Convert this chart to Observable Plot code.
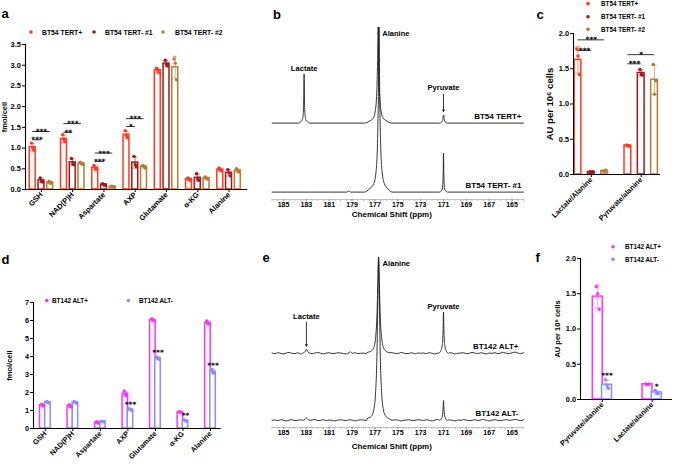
<!DOCTYPE html>
<html>
<head>
<meta charset="utf-8">
<script src="https://cdn.jsdelivr.net/npm/d3@7"></script>
<script src="https://cdn.jsdelivr.net/npm/@observablehq/plot@0.6"></script>
<style>
html,body{margin:0;padding:0;background:#fff;}
#root{position:relative;width:674px;height:464px;overflow:hidden;background:#fff;font-family:"Liberation Sans",Arial,Helvetica,sans-serif;}
.panel{position:absolute;}
#overlay{position:absolute;left:0;top:0;pointer-events:none;overflow:visible;}
</style>
</head>
<body>
<div id="root"></div>
<script>
// ================= DATA =================
// Panel a: BT54 metabolites (fmol/cell), three replicates per bar
const metabolites = ["GSH", "NAD(P)H", "Aspartate", "AXP", "Glutamate", "α-KG", "Alanine"];
const tertSeries = ["BT54 TERT+", "BT54 TERT- #1", "BT54 TERT- #2"];
const tertColors = ["#ff3a1e", "#a3181b", "#b97a31"];
const tertPlusMetab   = [[1.12,1.00,0.95],[1.32,1.20,1.15],[0.58,0.50,0.49],[1.42,1.30,1.25],[2.93,2.88,2.82],[0.28,0.25,0.22],[0.52,0.47,0.45]];
const tertMinus1Metab = [[0.28,0.20,0.18],[0.75,0.62,0.60],[0.14,0.11,0.11],[0.80,0.60,0.55],[3.12,3.02,2.98],[0.38,0.25,0.22],[0.48,0.40,0.33]];
const tertMinus2Metab = [[0.20,0.15,0.16],[0.66,0.62,0.61],[0.08,0.07,0.06],[0.58,0.55,0.52],[3.15,3.05,2.65],[0.30,0.27,0.25],[0.50,0.45,0.42]];
const yTicksA = [0, 0.5, 1.0, 1.5, 2.0, 2.5, 3.0, 3.5];
const sigA = [
  {group:"GSH", from:"BT54 TERT+", to:"BT54 TERT- #1", y:1.20, label:"***"},
  {group:"GSH", from:"BT54 TERT+", to:"BT54 TERT- #2", y:1.40, label:"***"},
  {group:"NAD(P)H", from:"BT54 TERT+", to:"BT54 TERT- #1", y:1.38, label:"**"},
  {group:"NAD(P)H", from:"BT54 TERT+", to:"BT54 TERT- #2", y:1.59, label:"***"},
  {group:"Aspartate", from:"BT54 TERT+", to:"BT54 TERT- #1", y:0.68, label:"***"},
  {group:"Aspartate", from:"BT54 TERT+", to:"BT54 TERT- #2", y:0.88, label:"***"},
  {group:"AXP", from:"BT54 TERT+", to:"BT54 TERT- #1", y:1.52, label:"*"},
  {group:"AXP", from:"BT54 TERT+", to:"BT54 TERT- #2", y:1.71, label:"***"}
];

// Panel c: BT54 ratios (AU per 10^6 cells)
const ratiosC = ["Lactate/Alanine", "Pyruvate/alanine"];
const tertPlusRatio   = [[1.78,1.68,1.42],[0.42,0.41,0.40]];
const tertMinus1Ratio = [[0.04,0.03,0.04],[1.49,1.42,1.41]];
const tertMinus2Ratio = [[0.05,0.04,0.06],[1.56,1.14,1.33]];
const yTicksRatio = [0, 0.5, 1.0, 1.5, 2.0];
const sigC = [
  {group:"Lactate/Alanine", from:"BT54 TERT+", to:"BT54 TERT- #1", y:1.76, label:"***"},
  {group:"Lactate/Alanine", from:"BT54 TERT+", to:"BT54 TERT- #2", y:1.91, label:"***"},
  {group:"Pyruvate/alanine", from:"BT54 TERT+", to:"BT54 TERT- #1", y:1.57, label:"***"},
  {group:"Pyruvate/alanine", from:"BT54 TERT+", to:"BT54 TERT- #2", y:1.70, label:"*"}
];

// Panel d: BT142 metabolites (fmol/cell)
const altSeries = ["BT142 ALT+", "BT142 ALT-"];
const altColors = ["#ff33ff", "#8a8cff"];
const altPlusMetab  = [[1.35,1.28,1.25],[1.32,1.22,1.20],[0.38,0.32,0.30],[2.08,1.90,1.83],[6.10,6.02,5.98],[0.95,0.90,0.88],[5.97,5.85,5.80]];
const altMinusMetab = [[1.50,1.45,1.42],[1.50,1.45,1.40],[0.41,0.38,0.37],[1.10,1.05,1.00],[3.98,3.88,3.85],[0.48,0.43,0.40],[3.28,3.10,3.08]];
const yTicksD = [0, 1, 2, 3, 4, 5, 6, 7];
const starsD = [
  {group:"AXP", series:"BT142 ALT-", label:"***"},
  {group:"Glutamate", series:"BT142 ALT-", label:"***"},
  {group:"α-KG", series:"BT142 ALT-", label:"**"},
  {group:"Alanine", series:"BT142 ALT-", label:"***"}
];

// Panel f: BT142 ratios
const ratiosF = ["Pyruvate/alanine", "Lactate/alanine"];
const altPlusRatio  = [[1.60,1.50,1.28],[0.22,0.21,0.22]];
const altMinusRatio = [[0.28,0.19,0.16],[0.13,0.09,0.08]];
const starsF = [
  {group:"Pyruvate/alanine", series:"BT142 ALT-", label:"***"},
  {group:"Lactate/alanine", series:"BT142 ALT-", label:"*"}
];

// Spectra (chemical shift ppm, relative intensity)
const ppmTicks = [185, 183, 181, 179, 177, 175, 173, 171, 169, 167, 165];
const ppmMinorTicks = d3.range(164, 186.01, 0.5);
const bSamples = ["BT54 TERT+", "BT54 TERT- #1"];
const bUpperPeaks = [
  [[183.7,0],[183.5,0.02],[183.35,0.06],[183.27,0.16],[183.23,0.42],[183.2,0.8],[183.17,0.42],[183.13,0.16],[183.05,0.06],[182.9,0.02],[182.7,0]],
  [[177.9,0],[177.5,0.03],[177.15,0.08],[176.97,0.2],[176.84,0.5],[176.77,1.0],[176.72,1.56],[176.67,1.0],[176.6,0.5],[176.47,0.2],[176.27,0.08],[175.92,0.03],[175.5,0]],
  [[171.35,0],[171.15,0.02],[171.06,0.06],[171.0,0.13],[170.94,0.06],[170.85,0.02],[170.65,0]]
];
const bLowerPeaks = [
  [[179.45,0],[179.3,0.02],[179.15,0]],
  [[177.9,0],[177.5,0.05],[177.1,0.14],[176.9,0.34],[176.77,0.85],[176.69,1.7],[176.64,2.68],[176.59,1.7],[176.51,0.85],[176.38,0.34],[176.18,0.14],[175.85,0.05],[175.5,0]],
  [[171.35,0],[171.15,0.03],[171.07,0.1],[171.03,0.3],[171.0,0.63],[170.97,0.3],[170.93,0.1],[170.85,0.03],[170.65,0]]
];
const bPeakLabels = [
  {sample:"BT54 TERT+", name:"Lactate", ppm:183.2, y:0.89},
  {sample:"BT54 TERT+", name:"Pyruvate", ppm:171.0, y:0.58},
  {sample:"BT54 TERT+", name:"Alanine", ppm:176.72, y:1.45}
];
const bArrows = [{sample:"BT54 TERT+", ppm:171.0, y1:0.47, y2:0.19}];

const eSamples = ["BT142 ALT+", "BT142 ALT-"];
const eUpperPeaks = [
  [[183.35,0],[183.15,0.02],[183.06,0.05],[183.0,0.07],[182.94,0.05],[182.85,0.02],[182.65,0]],
  [[179.35,0],[179.15,0.025],[178.95,0]],
  [[177.7,0.01],[177.3,0.04],[177.1,0.1],[176.95,0.25],[176.83,0.6],[176.74,1.2],[176.68,1.6],[176.62,1.2],[176.53,0.6],[176.41,0.25],[176.26,0.1],[176.06,0.04],[175.7,0.01]],
  [[171.45,0],[171.22,0.05],[171.1,0.15],[171.04,0.38],[171.0,0.69],[170.96,0.38],[170.9,0.15],[170.78,0.05],[170.55,0]]
];
const eLowerPeaks = [
  [[183.3,0],[183.12,0.015],[183.0,0.04],[182.88,0.015],[182.7,0]],
  [[177.7,0.02],[177.3,0.07],[177.1,0.18],[176.95,0.45],[176.83,1.05],[176.74,2.1],[176.68,2.73],[176.62,2.1],[176.53,1.05],[176.41,0.45],[176.26,0.18],[176.06,0.07],[175.7,0.02]],
  [[171.35,0],[171.17,0.03],[171.08,0.1],[171.03,0.22],[171.0,0.33],[170.97,0.22],[170.92,0.1],[170.83,0.03],[170.65,0]]
];
// baseline noise read every 0.25 ppm from 186 down to 164
const eNoiseUpper = [0.005,-0.005,0.01,0,-0.01,0.005,0.015,0,-0.005,0.01,
  -0.01,0.005,0,0.01,-0.005,0.005,0.015,0,-0.01,0.005,
  0.01,-0.005,0,0.01,0.005,-0.005,-0.01,0.005,0.015,0.01,
  -0.005,0,0.005,-0.01,0,0.01,0.005,-0.005,0.01,0,
  -0.01,0.005,0.01,0,-0.005,0.015,0.005,-0.005,0,0.01,
  -0.01,0.005,0,0.005,-0.005,0.01,0,-0.01,0.005,0.015,
  0,-0.005,0.01,0.005,-0.01,0,0.005,0.01,-0.005,0,
  0.015,0.005,-0.005,0.01,0,-0.01,0.005,0,0.01,-0.005,
  0.005,0.015,0,-0.005,0.01,0.02,0.005,-0.005,0.01];
const eNoiseLower = [0,0.005,-0.005,0.01,0,-0.01,0.005,0.01,-0.005,0,
  0.01,0.005,-0.01,0,0.005,0.015,-0.005,0,0.01,-0.005,
  0.005,0,-0.01,0.005,0.01,0,-0.005,0.01,0.005,-0.01,
  0,0.01,0.005,-0.005,0,0.01,-0.01,0.005,0,0.005,
  0.015,-0.005,0,0.01,0.005,-0.01,0,0.005,0.01,-0.005,
  0,0.01,0.005,-0.005,0.01,0,-0.01,0.005,0.015,0,
  -0.005,0.005,0.01,0,-0.01,0.005,0,0.01,0.005,-0.005,
  0,0.01,-0.005,0.005,0.015,0,-0.01,0.005,0.01,0,
  -0.005,0.005,0.01,0,0.005,0.015,0.005,-0.005,0.01];
const ePeakLabels = [
  {sample:"BT142 ALT+", name:"Lactate", ppm:183.0, y:0.62},
  {sample:"BT142 ALT+", name:"Pyruvate", ppm:171.0, y:0.78},
  {sample:"BT142 ALT+", name:"Alanine", ppm:176.68, y:1.5}
];
const eArrows = [{sample:"BT142 ALT+", ppm:183.0, y1:0.52, y2:0.12}];

// ================= DRAWING =================
const FONT = '"Liberation Sans", Arial, Helvetica, sans-serif';
const STAR_FONT = '"DejaVu Sans", "Liberation Sans", sans-serif';
const root = document.getElementById("root");

function place(svg, left, top){
  const div = document.createElement("div");
  div.className = "panel";
  div.style.left = left + "px";
  div.style.top = top + "px";
  div.appendChild(svg);
  root.appendChild(div);
}

function barPanel(cfg){
  const nS = cfg.series.length;
  const pos = (gi, si) => gi + (si - (nS - 1) / 2) * cfg.offset;
  const gI = g => cfg.groups.indexOf(g);
  const sI = s => cfg.series.indexOf(s);
  const rows = [], pts = [];
  cfg.values.forEach((ser, si) => ser.forEach((reps, gi) => {
    const mean = d3.mean(reps), sd = d3.deviation(reps);
    rows.push({g: cfg.groups[gi], s: cfg.series[si], x: pos(gi, si), mean, lo: mean - sd, hi: mean + sd});
    reps.forEach((v, ri) => pts.push({x: pos(gi, si) + (ri - 1) * cfg.jitter, v, s: cfg.series[si]}));
  }));
  const rowOf = (g, s) => rows.find(r => r.g === g && r.s === s);
  const marks = [
    Plot.axisY({ticks: cfg.yTicks, tickFormat: cfg.yFormat, tickSize: 3, tickPadding: 1.5, label: null}),
    Plot.axisY({ticks: [], tickSize: 0, label: cfg.yLabel, labelAnchor: "center", labelOffset: cfg.labelOffset, labelArrow: "none", fontSize: cfg.labelSize, dy: cfg.labelDy || 0}),
    Plot.rectY(rows, {x1: d => d.x - cfg.barW / 2, x2: d => d.x + cfg.barW / 2, y1: 0, y2: "mean", fill: "white", stroke: "s", strokeWidth: cfg.sw}),
    Plot.ruleX(rows, {x: "x", y1: "lo", y2: "hi", stroke: "s", strokeWidth: 0.9, strokeOpacity: 0.6}),
    Plot.ruleY(rows, {x1: d => d.x - cfg.cap, x2: d => d.x + cfg.cap, y: "hi", stroke: "s", strokeWidth: 0.9, strokeOpacity: 0.6}),
    Plot.ruleY(rows, {x1: d => d.x - cfg.cap, x2: d => d.x + cfg.cap, y: "lo", stroke: "s", strokeWidth: 0.9, strokeOpacity: 0.6}),
    Plot.dot(pts, {x: "x", y: "v", fill: "s", r: cfg.r}),
    Plot.ruleY([0], {stroke: "black", strokeWidth: 1.1}),
    Plot.ruleX([cfg.xDomain[0]], {stroke: "black", strokeWidth: 1.1})
  ];
  if (cfg.sig) {
    const x1 = d => pos(gI(d.group), sI(d.from)), x2 = d => pos(gI(d.group), sI(d.to));
    marks.push(
      Plot.ruleY(cfg.sig, {x1, x2, y: "y", stroke: "black", strokeWidth: 0.8}),
      Plot.text(cfg.sig, {x: d => (x1(d) + x2(d)) / 2, y: "y", text: "label", lineAnchor: "bottom", dy: cfg.starDy, fontSize: cfg.starSize, fontWeight: "bold", fontFamily: STAR_FONT})
    );
  }
  if (cfg.stars) {
    marks.push(Plot.text(cfg.stars, {x: d => pos(gI(d.group), sI(d.series)), y: d => rowOf(d.group, d.series).hi, text: "label", lineAnchor: "bottom", dy: cfg.starDy, fontSize: cfg.starSize, fontWeight: "bold", fontFamily: STAR_FONT}));
  }
  return Plot.plot({
    width: cfg.width, height: cfg.height,
    marginLeft: cfg.ml, marginRight: cfg.mr, marginTop: cfg.mt, marginBottom: cfg.mb,
    x: {domain: cfg.xDomain, ticks: d3.range(cfg.groups.length), tickFormat: i => cfg.groups[i], tickRotate: -45, tickSize: 3, tickPadding: 1, label: null},
    y: {domain: cfg.yDomain},
    color: {domain: cfg.series, range: cfg.colors},
    style: {fontFamily: FONT, fontSize: cfg.fontSize + "px", fontWeight: "bold", overflow: "visible", background: "transparent", color: "black"},
    marks
  });
}

function buildSpectrum(peaks, noise){
  const pts = peaks.flat().map(p => p.slice());
  const spans = peaks.map(p => [d3.min(p, d => d[0]), d3.max(p, d => d[0])]);
  const base = noise ? noise.map((v, i) => [186 - i * 0.25, v]) : [[186, 0], [164, 0]];
  base.filter(([ppm]) => !spans.some(([lo, hi]) => ppm >= lo && ppm <= hi)).forEach(p => pts.push(p));
  return pts.sort((a, b) => b[0] - a[0]);
}

function spectrumPanel(cfg){
  const lines = [];
  cfg.samples.forEach((name, k) => cfg.spectra[k].forEach(([ppm, v]) => lines.push({sample: name, ppm, v})));
  const bottom = cfg.samples[cfg.samples.length - 1];
  const yDom = [-0.12, 1];
  const others = cfg.peakLabels.filter(d => d.name !== "Alanine");
  const alan = cfg.peakLabels.filter(d => d.name === "Alanine");
  return Plot.plot({
    width: cfg.width, height: cfg.height,
    marginLeft: cfg.ml, marginRight: cfg.mr, marginTop: cfg.mt, marginBottom: cfg.mb,
    x: {domain: [186, 164], label: null},
    y: {domain: yDom, axis: null},
    fy: {domain: cfg.samples, axis: null, padding: 0},
    style: {fontFamily: FONT, fontSize: "7px", fontWeight: "bold", overflow: "visible", background: "transparent", color: "black"},
    marks: [
      Plot.ruleY([{sample: bottom}], {fy: "sample", y: () => yDom[0], stroke: "#b0b0b0", strokeWidth: 0.8}),
      Plot.axisX({ticks: ppmMinorTicks, tickSize: 2, stroke: "#b8b8b8", tickFormat: () => "", label: null}),
      Plot.axisX({ticks: ppmTicks, tickSize: 2, tickPadding: 1, stroke: "#999", fill: "black", tickFormat: "d", label: null, fontSize: 7}),
      Plot.line(lines, {x: "ppm", y: "v", fy: "sample", z: "sample", curve: "monotone-x", stroke: "#1e1e1e", strokeWidth: 0.9}),
      Plot.text(cfg.samples.map(s => ({sample: s})), {fy: "sample", frameAnchor: "right", y: () => 0, text: "sample", textAnchor: "end", dx: cfg.sampleDx, dy: -6.5, fontSize: 8}),
      Plot.text(others, {fy: "sample", x: "ppm", y: "y", text: "name", fontSize: 7.6}),
      Plot.text(alan, {fy: "sample", x: "ppm", y: "y", text: "name", textAnchor: "start", dx: 4, fontSize: 7.6}),
      Plot.arrow(cfg.arrows, {fy: "sample", x1: "ppm", x2: "ppm", y1: "y1", y2: "y2", stroke: "black", strokeWidth: 0.8, headLength: 3.5}),
      Plot.text([{sample: bottom}], {fy: "sample", frameAnchor: "bottom", text: () => "Chemical Shift (ppm)", dx: -6, dy: cfg.titleDy, fontSize: 8})
    ]
  });
}

// Panel a
place(barPanel({
  groups: metabolites, series: tertSeries, colors: tertColors,
  values: [tertPlusMetab, tertMinus1Metab, tertMinus2Metab],
  width: 250, height: 235, ml: 25, mr: 3, mt: 44, mb: 46,
  xDomain: [-0.51, 6.59], offset: 0.28, barW: 0.19, sw: 1.5, cap: 0.08, jitter: 0.04, r: 1.7,
  yDomain: [0, 3.5], yTicks: yTicksA, yFormat: ".1f", yLabel: "fmol/cell", labelOffset: 24, labelSize: 7.5,
  fontSize: 7.5, starSize: 7.3, starDy: 2.6, sig: sigA
}), 0, 0);

// Panel c
place(barPanel({
  groups: ratiosC, series: tertSeries, colors: tertColors,
  values: [tertPlusRatio, tertMinus1Ratio, tertMinus2Ratio],
  width: 154, height: 240, ml: 53, mr: 14, mt: 33, mb: 66,
  xDomain: [-0.357, 1.387], offset: 0.267, barW: 0.135, sw: 1.5, cap: 0.06, jitter: 0.025, r: 1.7,
  yDomain: [0, 2], yTicks: yTicksRatio, yFormat: ".1f", yLabel: "AU per 10⁶ cells", labelOffset: 27, labelSize: 9.5, labelDy: -15,
  fontSize: 7.3, starSize: 7.4, starDy: 2.6, sig: sigC
}), 520, 0);

// Panel d
place(barPanel({
  groups: metabolites, series: altSeries, colors: altColors,
  values: [altPlusMetab, altMinusMetab],
  width: 240, height: 224, ml: 33, mr: 19.3, mt: 62, mb: 36,
  xDomain: [-0.43, 6.39], offset: 0.187, barW: 0.2, sw: 1.5, cap: 0.08, jitter: 0.04, r: 1.7,
  yDomain: [0, 7], yTicks: yTicksD, yFormat: "d", yLabel: "fmol/cell", labelOffset: 26.5, labelSize: 7.5,
  fontSize: 7.3, starSize: 7.4, starDy: -2, stars: starsD
}), 0, 240);

// Panel f
place(barPanel({
  groups: ratiosF, series: altSeries, colors: altColors,
  values: [altPlusRatio, altMinusRatio],
  width: 154, height: 224, ml: 60, mr: 2, mt: 18, mb: 65,
  xDomain: [-0.44, 1.41], offset: 0.187, barW: 0.2, sw: 1.5, cap: 0.06, jitter: 0.03, r: 1.7,
  yDomain: [0, 2], yTicks: yTicksRatio, yFormat: ".1f", yLabel: "AU per 10⁶ cells", labelOffset: 25.5, labelSize: 7.5,
  fontSize: 7.3, starSize: 7.4, starDy: -2, stars: starsF
}), 520, 240);

// Panel b
place(spectrumPanel({
  samples: bSamples,
  spectra: [buildSpectrum(bUpperPeaks, null), buildSpectrum(bLowerPeaks, null)],
  peakLabels: bPeakLabels, arrows: bArrows,
  width: 280, height: 225, ml: 21.6, mr: 7, mt: 61.4, mb: 25.6, sampleDx: -2, titleDy: 17.6
}), 250, 0);

// Panel e
place(spectrumPanel({
  samples: eSamples,
  spectra: [buildSpectrum(eUpperPeaks, eNoiseUpper), buildSpectrum(eLowerPeaks, eNoiseLower)],
  peakLabels: ePeakLabels, arrows: eArrows,
  width: 280, height: 234, ml: 21.6, mr: 7, mt: 63.2, mb: 36.8, sampleDx: -5, titleDy: 21
}), 250, 230);

// Overlay: panel letters and legends
const ov = d3.select(root).append("svg").attr("id", "overlay").attr("width", 674).attr("height", 464)
  .style("font-family", FONT).style("font-weight", "bold");
[["a",1.5,18.3],["b",273,19.3],["c",536.5,18.5],["d",1.5,264],["e",262.5,261.7],["f",535.5,261.7]]
  .forEach(([t, x, y]) => ov.append("text").attr("x", x).attr("y", y).attr("font-size", 13).text(t));

function legendItem(cx, cy, tx, color, label, size){
  ov.append("circle").attr("cx", cx).attr("cy", cy).attr("r", 1.8).attr("fill", color);
  ov.append("text").attr("x", tx).attr("y", cy).attr("dominant-baseline", "central").attr("font-size", size).text(label);
}
[[31,42],[94,105],[163,175]].forEach(([cx, tx], i) => legendItem(cx, 32, tx, tertColors[i], tertSeries[i], 6.8));
[3.5, 16.7, 29.3].forEach((cy, i) => legendItem(588, cy, 601, tertColors[i], tertSeries[i], 6.3));
[[46.7,52],[128.3,139]].forEach(([cx, tx], i) => legendItem(cx, 300.5, tx, altColors[i], altSeries[i], 6.3));
[246.7, 259.3].forEach((cy, i) => legendItem(613, cy, 625, altColors[i], altSeries[i], 6.3));
</script>
</body>
</html>
